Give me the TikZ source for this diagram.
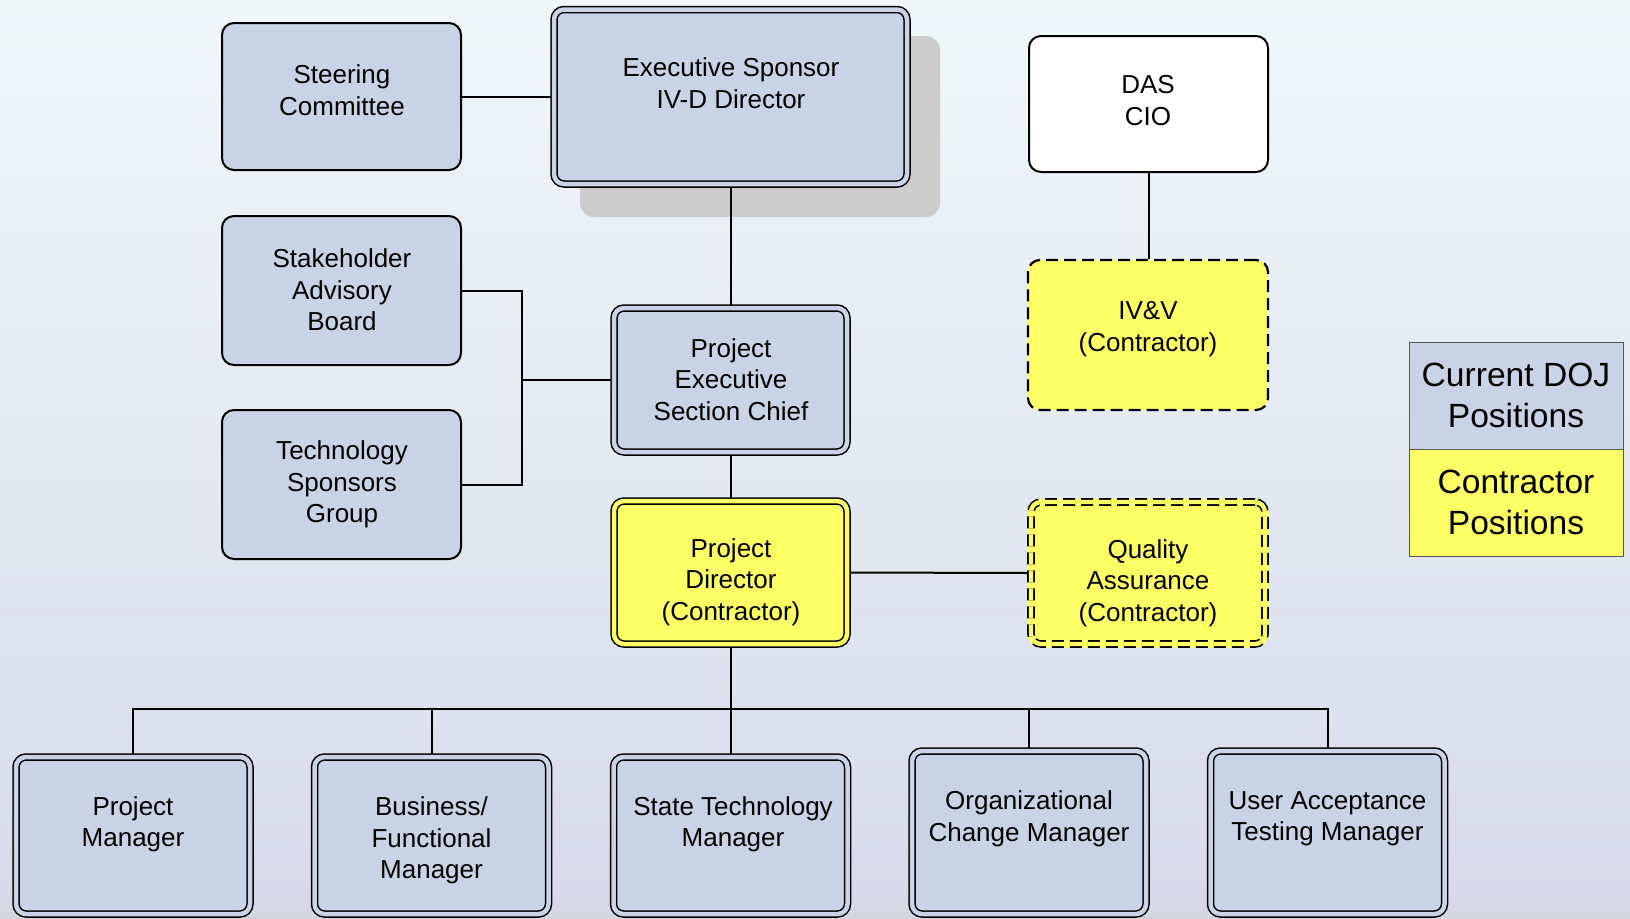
\documentclass[tikz,border=0pt]{standalone}
\usepackage{fontspec}
\setmainfont{Liberation Sans}
\definecolor{bgtop}{HTML}{F0F7F9}
\definecolor{bgbot}{HTML}{D8DAEB}
\definecolor{bgband}{HTML}{D3D6E0}
\definecolor{boxblue}{HTML}{C8D4E6}
\definecolor{conyellow}{HTML}{FFFF66}
\definecolor{shadowgray}{HTML}{CCCCCC}
\definecolor{leggray}{HTML}{555555}
\pgfdeclarelayer{bg}
\pgfdeclarelayer{lines}
\pgfsetlayers{bg,lines,main}
\tikzset{
  sbox/.style={draw, line width=1pt, rounded corners=6pt, fill=boxblue, inner sep=0pt},
  dbox/.style={draw, line width=0.75pt, double=boxblue, double distance=2.25pt, rounded corners=5pt, fill=boxblue, inner sep=0pt},
  ybox/.style={dbox, double=conyellow, fill=conyellow},
  dashbox/.style={draw, line width=1.1pt, dash pattern=on 6pt off 3pt, rounded corners=6pt, fill=conyellow, inner sep=0pt},
  ddashbox/.style={draw, line width=0.8pt, double=conyellow, double distance=2.2pt, dash pattern=on 6pt off 3pt, rounded corners=5pt, fill=conyellow, inner sep=0pt},
  txt/.style={align=center, font=\fontsize{13pt}{15.75pt}\selectfont, inner sep=0pt},
  legcell/.style={draw=leggray, line width=0.5pt, inner sep=0pt, minimum width=107pt, minimum height=53.5pt, align=center, font=\fontsize{16.8pt}{20.8pt}\selectfont},
  conn/.style={draw, line width=1pt},
}
\begin{document}
\begin{tikzpicture}[x=0.5pt,y=-0.5pt]
\useasboundingbox (0,0) rectangle (1630,918);
\begin{pgfonlayer}{bg}
  \shade[top color=bgtop, bottom color=bgbot] (0,0) rectangle (1630,898);
  \shade[top color=bgbot, bottom color=bgband] (0,895) rectangle (1630,918);
  % shadow of executive sponsor
  \node[fill=shadowgray, rounded corners=7pt, inner sep=0pt, minimum width=180pt, minimum height=90.5pt] (exec-shadow) at (760,126.5) {};
\end{pgfonlayer}

% top group
\node[sbox, minimum width=119.5pt, minimum height=73.5pt] (steer) at (341.5,96.5) {};
\node[txt] (steer-t) at (342,90.4) {Steering\\Committee};

\node[dbox, minimum width=176.5pt, minimum height=87.25pt] (exec) at (730.5,96.75) {};
\node[txt] (exec-t) at (731,83) {Executive Sponsor\\IV-D Director};

\node[sbox, fill=white, minimum width=119.5pt, minimum height=68pt] (das) at (1148.5,104) {};
\node[txt] (das-t) at (1148,100.3) {DAS\\CIO};

\node[sbox, minimum width=119.5pt, minimum height=74.5pt] (stake) at (341.5,290.5) {};
\node[txt] (stake-t) at (342,290) {Stakeholder\\Advisory\\Board};

\node[sbox, minimum width=119.5pt, minimum height=74.5pt] (tech) at (341.5,484.5) {};
\node[txt] (tech-t) at (342,484.4) {Technology\\Sponsors\\Group};

\node[dbox, minimum width=116.5pt, minimum height=72pt] (pe) at (730.5,380) {};
\node[txt] (pe-t) at (731,379.4) {Project\\Executive\\Section Chief};

\node[ybox, minimum width=116.5pt, minimum height=71.5pt] (pd) at (730.5,572.5) {};
\node[txt] (pd-t) at (731,582) {Project\\Director\\(Contractor)};

\node[dashbox, minimum width=120pt, minimum height=75pt] (ivv) at (1148,335) {};
\node[txt] (ivv-t) at (1148,329) {IV\&V\\(Contractor)};

\node[fill=conyellow, rounded corners=7pt, inner sep=0pt, minimum width=120.5pt, minimum height=74.5pt] (qa-bg) at (1148,573) {};
\node[ddashbox, minimum width=117pt, minimum height=71pt] (qa) at (1148,573) {};
\node[txt] (qa-t) at (1148,583) {Quality\\Assurance\\(Contractor)};

% bottom row
\node[dbox, minimum width=117pt, minimum height=78.5pt] (pm) at (133,835.5) {};
\node[txt] (pm-t) at (133,824.3) {Project\\Manager};
\node[dbox, minimum width=117pt, minimum height=78.5pt] (bfm) at (431.5,835.5) {};
\node[txt] (bfm-t) at (431.5,840.5) {Business/\\Functional\\Manager};
\node[dbox, minimum width=117pt, minimum height=78.5pt] (stm) at (730.5,835.5) {};
\node[txt] (stm-t) at (733,824.3) {State Technology\\Manager};
\node[dbox, minimum width=117pt, minimum height=81.5pt] (ocm) at (1029,832.5) {};
\node[txt] (ocm-t) at (1029,818.6) {Organizational\\Change Manager};
\node[dbox, minimum width=117pt, minimum height=81.5pt] (uat) at (1327.5,832.5) {};
\node[txt] (uat-t) at (1327.5,818.6) {User Acceptance\\Testing Manager};

% legend
\node[legcell, fill=boxblue] (leg-doj) at (1516,395.5) {Current DOJ\\Positions};
\node[legcell, fill=conyellow] (leg-con) at (1516,502.5) {Contractor\\Positions};

% connectors
\coordinate (jn) at (521.5,380);
\coordinate (bus) at (730.5,709);
\begin{pgfonlayer}{lines}
  \draw[conn] (steer.east) -- (steer.east -| exec.west);
  \draw[conn] (exec.south) -- (pe.north);
  \draw[conn] (stake.east) -| (jn) |- (tech.east);
  \draw[conn] (jn) -- (pe.west);
  \draw[conn] (pe.south) -- (pd.north);
  \draw[conn] (pd.east) -- (qa.west);
  \draw[conn] (das.south) -- (das.south |- ivv.north);
  \draw[conn] (pd.south) -- (stm.north);
  \draw[conn] (pm.north) -- (pm.north |- bus) -- (uat.north |- bus) -- (uat.north);
  \draw[conn] (bfm.north) -- (bfm.north |- bus);
  \draw[conn] (ocm.north) -- (ocm.north |- bus);
\end{pgfonlayer}
\end{tikzpicture}
\end{document}
